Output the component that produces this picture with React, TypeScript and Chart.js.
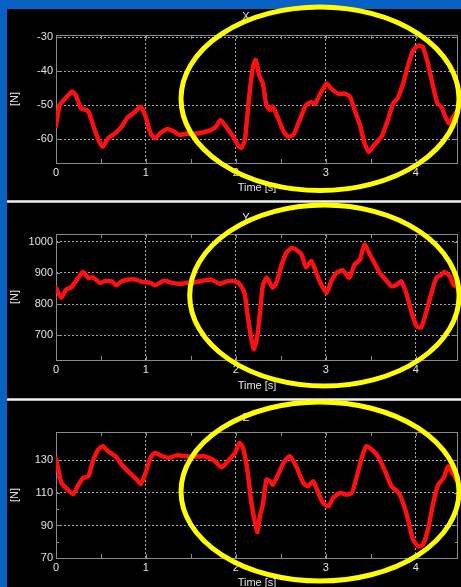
import React, { useEffect, useRef } from 'react';
import { Chart, registerables } from 'chart.js';

Chart.register(...registerables);

const FONT = '"Liberation Sans", Arial, Helvetica, sans-serif';
const TEXT = '#e2e2e2';
const GRID = '#a6a6a6';
const BOX = '#8a8a8a';

// ---- Data ----
const timeX = [0, 0.04, 0.09, 0.18, 0.22, 0.28, 0.34, 0.37, 0.43, 0.49, 0.52, 0.58, 0.66, 0.73, 0.79, 0.88, 0.94, 0.99, 1.05, 1.1, 1.16, 1.24, 1.31, 1.37, 1.44, 1.54, 1.63, 1.72, 1.78, 1.83, 1.89, 1.97, 2.02, 2.06, 2.1, 2.12, 2.15, 2.19, 2.22, 2.26, 2.3, 2.34, 2.38, 2.41, 2.47, 2.53, 2.58, 2.64, 2.71, 2.78, 2.84, 2.88, 2.93, 3.01, 3.06, 3.14, 3.21, 3.27, 3.32, 3.38, 3.43, 3.48, 3.54, 3.62, 3.69, 3.75, 3.8, 3.86, 3.91, 3.97, 4.03, 4.08, 4.14, 4.19, 4.24, 4.29, 4.32, 4.37, 4.42, 4.47];
const forceX = [-56, -50, -48.4, -46, -47, -51, -51.4, -52.4, -57.3, -61.2, -62.2, -59.7, -58.2, -56.3, -53.8, -51.9, -50.4, -52.8, -58.2, -59.7, -58.2, -57, -57.7, -58.7, -58.4, -58.4, -58, -57.3, -56.3, -54.3, -56.3, -59.2, -61.7, -62.6, -60.2, -55, -47, -38.7, -36.6, -41.2, -43.6, -50, -51.4, -50.4, -53.8, -57.7, -59.2, -58.7, -54.3, -50, -49, -49.6, -47, -43.6, -45.1, -46.6, -46.6, -47.5, -51.4, -55.8, -61.2, -63.7, -61.7, -59.2, -54.3, -49.4, -47.9, -43.6, -38.7, -33.8, -32.4, -32.9, -38.2, -44.1, -49.4, -50.6, -52.8, -55.3, -53.3, -51.4];

const timeY = [0, 0.06, 0.11, 0.17, 0.22, 0.3, 0.36, 0.41, 0.49, 0.54, 0.62, 0.67, 0.73, 0.81, 0.88, 0.96, 1.05, 1.1, 1.2, 1.29, 1.37, 1.46, 1.57, 1.72, 1.82, 1.91, 2.01, 2.06, 2.1, 2.13, 2.17, 2.2, 2.24, 2.27, 2.3, 2.34, 2.37, 2.41, 2.45, 2.51, 2.56, 2.62, 2.67, 2.73, 2.78, 2.84, 2.9, 2.95, 3.01, 3.06, 3.12, 3.19, 3.26, 3.32, 3.38, 3.43, 3.49, 3.55, 3.6, 3.68, 3.73, 3.79, 3.84, 3.9, 3.95, 4.01, 4.06, 4.12, 4.18, 4.23, 4.29, 4.32, 4.38, 4.42, 4.47];
const forceY = [852, 820, 846, 854, 873, 903, 884, 886, 868, 873, 873, 860, 873, 879, 879, 871, 868, 860, 875, 868, 865, 868, 871, 879, 865, 873, 871, 857, 830, 766, 691, 655, 700, 777, 860, 884, 873, 852, 868, 927, 964, 980, 975, 959, 918, 938, 895, 862, 836, 873, 900, 908, 884, 927, 943, 991, 959, 927, 900, 873, 857, 862, 873, 830, 777, 728, 725, 777, 841, 884, 895, 903, 889, 862, 854];

const timeZ = [0, 0.03, 0.06, 0.11, 0.19, 0.24, 0.3, 0.36, 0.41, 0.47, 0.52, 0.58, 0.66, 0.73, 0.82, 0.9, 0.94, 0.99, 1.05, 1.1, 1.18, 1.25, 1.35, 1.44, 1.54, 1.65, 1.76, 1.84, 1.91, 1.99, 2.04, 2.08, 2.13, 2.17, 2.21, 2.24, 2.27, 2.3, 2.34, 2.38, 2.41, 2.47, 2.53, 2.6, 2.67, 2.75, 2.8, 2.86, 2.91, 2.97, 3.03, 3.08, 3.16, 3.23, 3.29, 3.34, 3.4, 3.45, 3.51, 3.58, 3.66, 3.73, 3.81, 3.86, 3.92, 3.97, 4.03, 4.08, 4.14, 4.19, 4.25, 4.31, 4.36, 4.42, 4.47];
const forceZ = [131, 123.3, 116.2, 113.1, 109.4, 114.1, 119.2, 120.3, 129.5, 136.7, 138.7, 135.7, 132.6, 127.5, 122.3, 118.2, 115.5, 121.3, 131.6, 134.6, 132.6, 131.6, 133.2, 132.6, 132.2, 132.6, 129.9, 125.8, 129.5, 134.6, 140.8, 137.7, 123.3, 104.9, 92.5, 86, 96.7, 102.8, 118.2, 117.2, 115.1, 121.3, 128.5, 132.6, 126.4, 116.2, 114.1, 117.2, 111, 103.8, 101.8, 106.9, 110, 109, 110, 119.2, 131.6, 138.7, 136.7, 132.6, 123.3, 114.1, 110, 103.8, 92.5, 81.3, 77.1, 78.2, 88.4, 102.8, 115.1, 119.2, 126.4, 121.3, 116.2];

// Tick labels
const timeTicks = [0, 1, 2, 3, 4];
const yTicksX = [-60, -50, -40, -30];
const yTicksY = [700, 800, 900, 1000];
const yTicksZ = [70, 90, 110, 130];
const yMinorZ = [80, 100, 120];

const panelTitles = ['X', 'Y', 'Z'];
const xAxisTitle = 'Time [s]';
const yAxisTitle = '[N]';

type Spec = {
  title: string;
  t: number[];
  v: number[];
  yMin: number;
  yMax: number;
  yTicks: number[];
  yMinor: number[];
  canvasTop: number;
  canvasH: number;
  plotTop: number;
  plotBottom: number;
  timeLabelY: number;
  titleY: number;
  ell: { cx: number; cy: number; rx: number; ry: number };
};

const X_MAX = 4.47;
const PLOT_LEFT = 56;
const PLOT_RIGHT = 458;
const W = 461;

const specs: Spec[] = [
  {
    title: panelTitles[0], t: timeX, v: forceX, yMin: -67, yMax: -29.3, yTicks: yTicksX, yMinor: [],
    canvasTop: 0, canvasH: 200, plotTop: 35, plotBottom: 163, timeLabelY: 188, titleY: 17,
    ell: { cx: 320, cy: 98.8, rx: 139, ry: 91.8 },
  },
  {
    title: panelTitles[1], t: timeY, v: forceY, yMin: 620, yMax: 1025, yTicks: yTicksY, yMinor: [],
    canvasTop: 200, canvasH: 200, plotTop: 234, plotBottom: 360, timeLabelY: 386, titleY: 218,
    ell: { cx: 324.4, cy: 295.5, rx: 134.7, ry: 90.5 },
  },
  {
    title: panelTitles[2], t: timeZ, v: forceZ, yMin: 70, yMax: 147.5, yTicks: yTicksZ, yMinor: yMinorZ,
    canvasTop: 398, canvasH: 200, plotTop: 432, plotBottom: 558, timeLabelY: 583, titleY: 418,
    ell: { cx: 320, cy: 491.5, rx: 139, ry: 89.5 },
  },
];

function Panel({ spec }: { spec: Spec }) {
  const ref = useRef<HTMLCanvasElement>(null);

  useEffect(() => {
    const canvas = ref.current;
    if (!canvas) return;
    const s = spec;
    const lineH = 11 * 1.2;

    const decor = {
      id: 'matlabDecor',
      beforeDatasetsDraw(chart: any) {
        const { ctx, chartArea: a, scales } = chart;
        const xs = scales.x;
        const ys = scales.y;
        ctx.save();
        ctx.strokeStyle = BOX;
        ctx.lineWidth = 1;
        ctx.beginPath();
        for (let k = 0; k * 0.5 <= X_MAX + 1e-9; k++) {
          const px = Math.round(xs.getPixelForValue(k * 0.5)) + 0.5;
          ctx.moveTo(px, a.bottom);
          ctx.lineTo(px, a.bottom - 4);
          ctx.moveTo(px, a.top);
          ctx.lineTo(px, a.top + 4);
        }
        const marks = [...s.yTicks.map((v) => [v, 4]), ...s.yMinor.map((v) => [v, 3])];
        for (const [v, len] of marks) {
          const py = Math.round(ys.getPixelForValue(v)) + 0.5;
          ctx.moveTo(a.left, py);
          ctx.lineTo(a.left + len, py);
          ctx.moveTo(a.right, py);
          ctx.lineTo(a.right - len, py);
        }
        ctx.stroke();
        ctx.strokeRect(Math.round(a.left) + 0.5, Math.round(a.top) + 0.5, Math.round(a.right - a.left) - 1, Math.round(a.bottom - a.top));
        ctx.restore();
      },
      afterDraw(chart: any) {
        const { ctx } = chart;
        ctx.save();
        ctx.fillStyle = TEXT;
        ctx.font = `11px ${FONT}`;
        ctx.textAlign = 'center';
        ctx.textBaseline = 'middle';
        ctx.fillText(s.title, 246, s.titleY - s.canvasTop);
        ctx.strokeStyle = '#ffff00';
        ctx.lineWidth = 5;
        ctx.beginPath();
        ctx.ellipse(s.ell.cx, s.ell.cy - s.canvasTop, s.ell.rx, s.ell.ry, 0, 0, Math.PI * 2);
        ctx.stroke();
        ctx.restore();
      },
    };

    const chart = new Chart(canvas, {
      type: 'line',
      data: {
        datasets: [
          {
            data: s.t.map((t, i) => ({ x: t, y: s.v[i] })),
            borderColor: '#ff1010',
            borderWidth: 4.5,
            pointRadius: 0,
            tension: 0.2,
            borderJoinStyle: 'round',
            borderCapStyle: 'round',
            fill: false,
          },
        ],
      },
      options: {
        responsive: false,
        animation: false,
        events: [],
        layout: {
          padding: { top: s.plotTop - s.canvasTop, right: W - PLOT_RIGHT, bottom: 0, left: 0 },
        },
        plugins: {
          legend: { display: false },
          title: { display: false },
          tooltip: { enabled: false },
        },
        scales: {
          x: {
            type: 'linear',
            min: 0,
            max: X_MAX,
            afterBuildTicks: (scale: any) => {
              scale.ticks = timeTicks.map((v) => ({ value: v }));
            },
            afterFit: (scale: any) => {
              scale.height = s.canvasH - (s.plotBottom - s.canvasTop);
            },
            ticks: {
              padding: 3,
              color: TEXT,
              font: { family: FONT, size: 11 },
              maxRotation: 0,
              autoSkip: false,
              callback: (v: any) => String(v),
            },
            grid: {
              drawTicks: false,
              lineWidth: 1,
              color: (c: any) => {
                const v = c.tick ? c.tick.value : 0;
                return v > 0 && v < X_MAX ? GRID : 'transparent';
              },
            },
            border: { display: false, dash: [2, 2] },
            title: {
              display: true,
              text: xAxisTitle,
              color: TEXT,
              font: { family: FONT, size: 11 },
              padding: { top: 0, bottom: s.canvasH - (s.timeLabelY - s.canvasTop) - lineH / 2 },
            },
          },
          y: {
            type: 'linear',
            min: s.yMin,
            max: s.yMax,
            afterBuildTicks: (scale: any) => {
              scale.ticks = s.yTicks.map((v) => ({ value: v }));
            },
            afterFit: (scale: any) => {
              scale.width = PLOT_LEFT;
            },
            ticks: {
              padding: 3,
              color: TEXT,
              autoSkip: false,
              font: { family: FONT, size: 11 },
              callback: (v: any) => String(v),
            },
            grid: {
              drawTicks: false,
              lineWidth: 1,
              color: (c: any) => {
                const v = c.tick ? c.tick.value : s.yMin;
                return v > s.yMin + 0.01 && v < s.yMax - 0.01 ? GRID : 'transparent';
              },
            },
            border: { display: false, dash: [2, 2] },
            title: {
              display: true,
              text: yAxisTitle,
              color: TEXT,
              font: { family: FONT, size: 11 },
              padding: { top: 15 - lineH / 2, bottom: 0 },
            },
          },
        },
      },
      plugins: [decor],
    } as any);

    return () => chart.destroy();
  }, [spec]);

  return (
    <canvas
      ref={ref}
      width={W}
      height={spec.canvasH}
      style={{ position: 'absolute', left: 0, top: spec.canvasTop, width: W, height: spec.canvasH, display: 'block' }}
    />
  );
}

export default function App() {
  return (
    <div
      style={{
        position: 'fixed',
        left: 0,
        top: 0,
        width: W,
        height: 587,
        overflow: 'hidden',
        background: '#0862c6',
      }}
    >
      <div style={{ position: 'absolute', left: 7, top: 9, right: 0, bottom: 0, background: '#000' }} />
      <div style={{ position: 'absolute', left: 7, top: 200, right: 0, height: 3, background: 'linear-gradient(#8a8a8a, #f0f0f0 40%, #f0f0f0 60%, #8a8a8a)' }} />
      <div style={{ position: 'absolute', left: 7, top: 398, right: 0, height: 3, background: 'linear-gradient(#8a8a8a, #f0f0f0 40%, #f0f0f0 60%, #8a8a8a)' }} />
      {specs.map((s) => (
        <Panel key={s.title} spec={s} />
      ))}
    </div>
  );
}
